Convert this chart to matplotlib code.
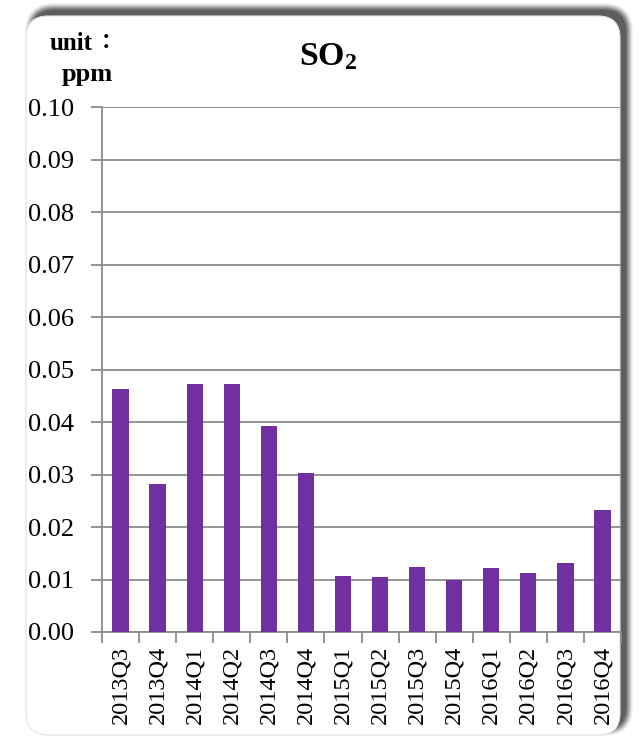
import matplotlib
matplotlib.use("Agg")
import matplotlib.pyplot as plt
from matplotlib.patches import FancyBboxPatch
import numpy as np

# data
quarters = ["2013Q3", "2013Q4", "2014Q1", "2014Q2", "2014Q3", "2014Q4", "2015Q1",
            "2015Q2", "2015Q3", "2015Q4", "2016Q1", "2016Q2", "2016Q3", "2016Q4"]
so2 = [0.0463, 0.0282, 0.0472, 0.0472, 0.0392, 0.0302, 0.0107,
       0.0105, 0.0124, 0.0100, 0.0122, 0.0112, 0.0131, 0.0232]
yticks = [0.00, 0.01, 0.02, 0.03, 0.04, 0.05, 0.06, 0.07, 0.08, 0.09, 0.10]

plt.rcParams['font.family'] = ['Liberation Serif', 'DejaVu Serif']
plt.rcParams['mathtext.fontset'] = 'custom'
plt.rcParams['mathtext.rm'] = 'Liberation Serif'
plt.rcParams['mathtext.bf'] = 'Liberation Serif:bold'

W, H = 639, 740
fig = plt.figure(figsize=(W / 100, H / 100), dpi=100)
fig.patch.set_facecolor("white")

# background layer in pixel coords for the rounded frame + shadow
bg = fig.add_axes([0, 0, 1, 1], zorder=0)
bg.set_xlim(0, W)
bg.set_ylim(H, 0)
bg.axis("off")

x0, y0, x1, y1 = 26, 16, 620, 735
r = 22
# soft shadow, shifted up and to the right
for i, a in enumerate(np.linspace(0.05, 0.28, 8)):
    grow = 7 - i
    sh = FancyBboxPatch((x0 + 6 - grow, y0 - 6 - grow), (x1 - x0) + 2 * grow,
                        (y1 - y0) + 2 * grow,
                        boxstyle="round,pad=0,rounding_size=%d" % (r + grow),
                        fc="#303030", ec="none", alpha=a)
    bg.add_patch(sh)
frame = FancyBboxPatch((x0, y0), x1 - x0, y1 - y0,
                       boxstyle="round,pad=0,rounding_size=%d" % r,
                       fc="white", ec="#e4e4e4", lw=0.8)
bg.add_patch(frame)

bg.text(328, 57, r"$\mathbf{SO_2}$", fontsize=24.5, ha="center", va="center")
bg.text(50, 43, "unit", fontsize=18, fontweight="bold", ha="left", va="center")
bg.text(101, 41, "\uff1a", fontsize=15, fontweight="bold", ha="left", va="center",
        family=['Noto Sans CJK SC', 'DejaVu Sans'])
bg.text(62, 74, "ppm", fontsize=19, fontweight="bold", ha="left", va="center")

# main chart
ax = fig.add_axes([102 / W, 1 - 632 / H, (621 - 102) / W, (632 - 107) / H], zorder=1)
ax.patch.set_alpha(0)
x = np.arange(len(quarters))
ax.bar(x, so2, width=0.44, color="#7030A0", zorder=3)

ax.set_xlim(-0.5, len(quarters) - 0.5)
ax.set_ylim(0, 0.10)
ax.set_yticks(yticks)
ax.set_yticklabels(["%.2f" % v for v in yticks], fontsize=19)
ax.yaxis.grid(True, color="#8c8c8c", lw=1.3, zorder=0)

ax.set_xticks(x)
ax.set_xticklabels(quarters, rotation=90, fontsize=17.5)
ax.tick_params(axis="x", length=0, pad=10)
ax.set_xticks(np.arange(-0.5, len(quarters), 1), minor=True)
ax.tick_params(axis="x", which="minor", length=8, color="#8c8c8c", width=1.3)
ax.tick_params(axis="y", length=8, color="#8c8c8c", width=1.3, pad=12)

for s in ["top", "right"]:
    ax.spines[s].set_visible(False)
for s in ["left", "bottom"]:
    ax.spines[s].set_color("#8c8c8c")
    ax.spines[s].set_linewidth(1.3)

fig.savefig("out.png", dpi=100)
